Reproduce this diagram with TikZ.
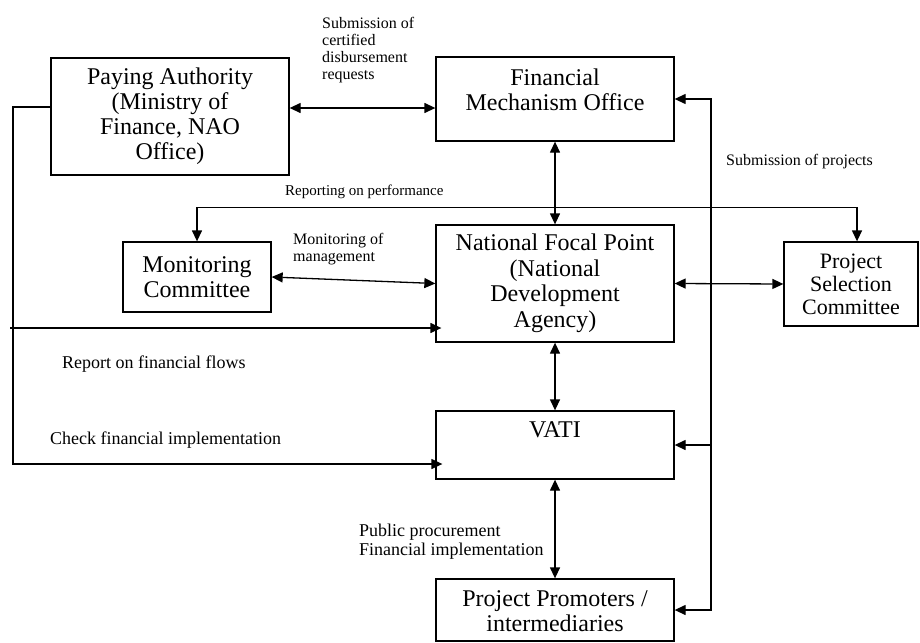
\documentclass[tikz,border=0pt]{standalone}
\usepackage{fontspec}
\setmainfont{Liberation Serif}
\usetikzlibrary{arrows.meta,calc}

\begin{document}
\begin{tikzpicture}[x=1pt,y=-1pt,
  box/.style={draw,line width=1.3pt,inner sep=0pt},
  tip/.tip={Triangle[length=11pt,width=10pt]},
  link/.style={line width=1.3pt,-tip},
  dlink/.style={line width=1.3pt,tip-tip},
  big/.style={font=\fontsize{24}{25}\selectfont,align=center,inner sep=0pt},
  mid/.style={font=\fontsize{22}{23}\selectfont,align=center,inner sep=0pt},
  lbl/.style={font=\fontsize{16}{17}\selectfont,align=left,anchor=north west,inner sep=0pt},
  lblbig/.style={font=\fontsize{18}{19}\selectfont,align=left,anchor=north west,inner sep=0pt},
]
\useasboundingbox (0,0) rectangle (920,642);

% organisations
\node[box,big,minimum width=238pt,minimum height=117pt] (pa) at (170,116.5)
  {Paying Authority\\(Ministry of\\Finance, NAO\\Office)};
\node[box,minimum width=238pt,minimum height=84pt] (fmo) at (555,99) {};
\node[big,anchor=north] (fmotext) at ($(fmo.north)+(0,12.5)$) {Financial\\Mechanism Office};
\node[box,big,minimum width=148pt,minimum height=70pt] (mc) at (197,277) {Monitoring\\Committee};
\node[box,font=\fontsize{24}{25.5}\selectfont,align=center,inner sep=0pt,
  minimum width=238pt,minimum height=117pt] (nfp) at (555,283.5)
  {National Focal Point\\(National\\Development\\Agency)};
\node[box,mid,minimum width=134pt,minimum height=84pt] (psc) at (851,284)
  {Project\\Selection\\Committee};
\node[box,minimum width=238pt,minimum height=68pt] (vati) at (555,445) {};
\node[big,anchor=north] (vatitext) at ($(vati.north)+(0,11)$) {VATI};
\node[box,minimum width=238pt,minimum height=62pt] (ppi) at (555,610) {};
\node[big,anchor=north] (ppitext) at ($(ppi.north)+(0,12)$) {Project Promoters /\\intermediaries};

% free ends of the connectors
\coordinate (bus) at (711,0);
\coordinate (lb) at (13,464);
\coordinate (la) at (10,328);

% connectors
\draw[dlink] ([yshift=8.5pt]pa.east) -- ([yshift=8.5pt]pa.east -| fmo.west);
\draw[dlink] (fmo.south) -- (nfp.north);
\draw[dlink] (nfp.south) -- (vati.north);
\draw[dlink] (vati.south) -- (ppi.north);
\draw[dlink] (mc.east) -- (nfp.west);
\draw[dlink] (nfp.east) -- (psc.west);
\draw[dlink] (mc.north) -- ++(0,-34) -| ([xshift=6pt]psc.north);
\draw[dlink] (fmo.east) -- (fmo.east -| bus) -- (ppi.east -| bus) -- (ppi.east);
\draw[link] (vati.east -| bus) -- (vati.east);
\draw[link] ([yshift=9.5pt]pa.west) -| (lb) -- ($(lb -| vati.west)+(7,0)$);
\draw[link] (la) -- ($(la -| nfp.west)+(6,0)$);

% labels
\node[lbl] (l1) at (322,17) {Submission of\\certified\\disbursement\\requests};
\node[lbl] (l2) at (726,154) {Submission of projects};
\node[lbl,font=\fontsize{15}{16}\selectfont] (l3) at (285,185) {Reporting on performance};
\node[lbl] (l4) at (293,233) {Monitoring of\\management};
\node[lblbig] (l5) at (62,356) {Report on financial flows};
\node[lblbig] (l6) at (50,432) {Check financial implementation};
\node[lblbig] (l7) at (359,524) {Public procurement\\Financial implementation};
\end{tikzpicture}
\end{document}
